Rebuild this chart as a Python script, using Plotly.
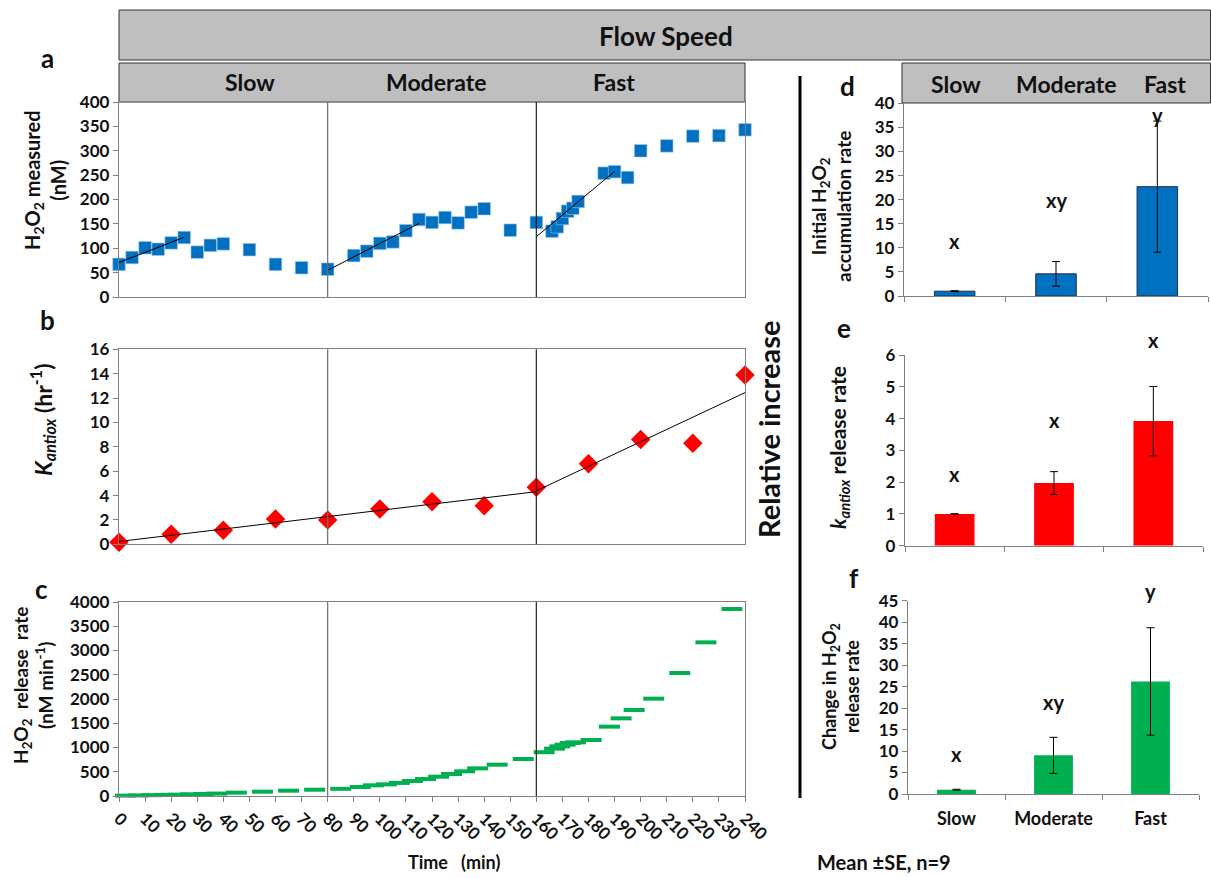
import numpy as np
import plotly.graph_objects as go

# ---------------- data ----------------
# panel a: H2O2 measured (nM)
t_a = [0, 5, 10, 15, 20, 25, 30, 35, 40, 50, 60, 70, 80, 90, 95, 100, 105, 110, 115, 120,
       125, 130, 135, 140, 150, 160, 166, 168, 170, 172, 174, 176, 186, 190, 195, 200,
       210, 220, 230, 240]
h2o2_a = [67, 81, 101, 98, 111, 122, 92, 106, 109, 97, 67, 60, 57, 85, 94, 110, 113, 136,
          159, 153, 163, 152, 174, 181, 137, 153, 135, 144, 161, 176, 182, 196, 254, 257,
          245, 300, 310, 330, 331, 343]
fit_windows_a = [(0, 25), (80, 115), (160, 190)]

# panel b: K_antiox (hr-1)
t_b = [0, 20, 40, 60, 80, 100, 120, 140, 160, 180, 200, 220, 240]
k_b = [0.16, 0.82, 1.15, 2.08, 2.0, 2.9, 3.5, 3.17, 4.68, 6.6, 8.6, 8.3, 13.9]
fit_windows_b = [(0, 160), (160, 240)]

# panel c: H2O2 release rate (nM min-1)
t_c = [2.5, 7.5, 12.5, 17.5, 22.5, 27.5, 32.5, 37.5, 45, 55, 65, 75, 85, 92.5, 97.5,
       102.5, 107.5, 112.5, 117.5, 122.5, 127.5, 132.5, 137.5, 145, 155, 163, 167, 169,
       171, 173, 175, 181, 188, 192.5, 197.5, 205, 215, 225, 235]
rate_c = [8, 12, 17, 22, 28, 35, 42, 50, 69, 89, 110, 130, 148, 186, 220, 240, 270, 309,
          350, 398, 454, 509, 570, 646, 763, 903, 976, 1024, 1058, 1093, 1107, 1155, 1430,
          1601, 1773, 2007, 2536, 3168, 3856]

phase_boundaries = [80, 160]
x_ticks_c = list(range(0, 241, 10))

# panels d-f: relative increase
speeds = ["Slow", "Moderate", "Fast"]
d_mean = [1.0, 4.6, 22.7]
d_se = [0.1, 2.55, 13.6]
d_letters = ["x", "xy", "y"]
d_letter_y = [11.5, 20.0, 37.6]
d_range = [0, 40]

e_mean = [1.0, 1.97, 3.92]
e_se = [0.0, 0.36, 1.09]
e_letters = ["x", "x", "x"]
e_letter_y = [2.25, 3.95, 6.47]
e_range = [0, 6]

f_mean = [1.0, 9.0, 26.2]
f_se = [0.1, 4.2, 12.5]
f_letters = ["x", "xy", "y"]
f_letter_y = [9.2, 21.5, 47.3]
f_range = [0, 45]

# ---------------- helpers ----------------
W, H = 1211, 878
FONT = "Lato"
TXT = "#111111"
AX = "#808080"


def X(px):
    return px / W


def Y(py):
    return 1 - py / H


fig = go.Figure()

# panel a
fig.add_trace(go.Scatter(x=t_a, y=h2o2_a, mode="markers", xaxis="x", yaxis="y",
                         marker=dict(symbol="square", size=12.5, color="#0070C0",
                                     line=dict(width=0.6, color="#9cc3e6")),
                         cliponaxis=False))
for lo, hi in fit_windows_a:
    tt = np.array([t for t in t_a if lo <= t <= hi], dtype=float)
    yy = np.array([v for t, v in zip(t_a, h2o2_a) if lo <= t <= hi], dtype=float)
    m, b = np.polyfit(tt, yy, 1)
    fig.add_trace(go.Scatter(x=[lo, hi], y=[m * lo + b, m * hi + b], mode="lines",
                             xaxis="x", yaxis="y", line=dict(color="black", width=1)))

# panel b
fig.add_trace(go.Scatter(x=t_b, y=k_b, mode="markers", xaxis="x2", yaxis="y2",
                         marker=dict(symbol="diamond", size=15, color="#FF0000"),
                         cliponaxis=False))
for lo, hi in fit_windows_b:
    tt = np.array([t for t in t_b if lo <= t <= hi], dtype=float)
    yy = np.array([v for t, v in zip(t_b, k_b) if lo <= t <= hi], dtype=float)
    m, b = np.polyfit(tt, yy, 1)
    fig.add_trace(go.Scatter(x=[lo, hi], y=[m * lo + b, m * hi + b], mode="lines",
                             xaxis="x2", yaxis="y2", line=dict(color="black", width=1)))

# panel c
fig.add_trace(go.Scatter(x=t_c, y=rate_c, mode="markers", xaxis="x3", yaxis="y3",
                         marker=dict(symbol="line-ew", size=15, color="#00B050",
                                     line=dict(width=4, color="#00B050")),
                         cliponaxis=False))

# bars d-f
err = dict(type="data", thickness=1, width=4, color="black")
fig.add_trace(go.Bar(x=speeds, y=d_mean, xaxis="x4", yaxis="y4", width=0.4,
                     marker=dict(color="#0070C0", line=dict(color="#1f2f4f", width=1)),
                     error_y=dict(array=d_se, **err)))
fig.add_trace(go.Bar(x=speeds, y=e_mean, xaxis="x5", yaxis="y5", width=0.4,
                     marker=dict(color="#FF0000", line=dict(width=0)),
                     error_y=dict(array=e_se, **err)))
fig.add_trace(go.Bar(x=speeds, y=f_mean, xaxis="x6", yaxis="y6", width=0.4,
                     marker=dict(color="#00B050", line=dict(width=0)),
                     error_y=dict(array=f_se, **err)))

ann = []
for ax, letters, ly, rng in [("4", d_letters, d_letter_y, d_range),
                             ("5", e_letters, e_letter_y, e_range),
                             ("6", f_letters, f_letter_y, f_range)]:
    for cat, s, yv in zip(speeds, letters, ly):
        ann.append(dict(x=cat, y=(yv - rng[0]) / (rng[1] - rng[0]), xref="x" + ax,
                        yref="y" + ax + " domain", text="<b>%s</b>" % s,
                        showarrow=False, xanchor="center", yanchor="middle",
                        font=dict(family=FONT, size=20, color=TXT)))

# ---------------- axes ----------------
tickfont = dict(family=FONT, size=17, color=TXT, weight="bold")
common_y = dict(showline=True, linecolor=AX, linewidth=1.3, ticks="outside", ticklen=5,
                tickcolor=AX, showgrid=False, zeroline=False, tickfont=tickfont,
                automargin=False)
common_xt = dict(showline=True, linecolor=AX, linewidth=1.3, mirror=True, showgrid=False,
                 zeroline=False, range=[0, 240], automargin=False)
cat_x = dict(type="category", tickson="boundaries", ticks="outside", ticklen=5,
             tickcolor=AX, showline=True, linecolor=AX, linewidth=1.3, showgrid=False,
             automargin=False)

lay = dict(
    xaxis=dict(domain=[X(119), X(745)], anchor="y", showticklabels=False, ticks="", **common_xt),
    yaxis=dict(domain=[Y(297), Y(102)], anchor="x", range=[0, 400], dtick=50, mirror=True, **common_y),
    xaxis2=dict(domain=[X(119), X(745)], anchor="y2", showticklabels=False, ticks="", **common_xt),
    yaxis2=dict(domain=[Y(544.3), Y(349.3)], anchor="x2", range=[0, 16], dtick=2, mirror=True, **common_y),
    xaxis3=dict(domain=[X(119), X(745)], anchor="y3", tickvals=x_ticks_c, ticks="outside",
                ticklen=5, tickcolor=AX, tickangle=45, tickfont=tickfont, **common_xt),
    yaxis3=dict(domain=[Y(796), Y(602)], anchor="x3", range=[0, 4000], dtick=500, mirror=True, **common_y),
    xaxis4=dict(domain=[X(904), X(1208)], anchor="y4", showticklabels=False, **cat_x),
    yaxis4=dict(domain=[Y(296), Y(103.3)], anchor="x4", range=d_range, dtick=5, **common_y),
    xaxis5=dict(domain=[X(905), X(1203)], anchor="y5", showticklabels=False, **cat_x),
    yaxis5=dict(domain=[Y(545.7), Y(355)], anchor="x5", range=e_range, dtick=1, **common_y),
    xaxis6=dict(domain=[X(908), X(1199)], anchor="y6", showticklabels=True, ticklabelstandoff=8,
                tickfont=dict(family=FONT, size=18, color=TXT, weight="bold"), **cat_x),
    yaxis6=dict(domain=[Y(794), Y(600.7)], anchor="x6", range=f_range, dtick=5, **common_y),
)

shapes = []
# phase boundary lines in a, b, c
for ya, xa in [("y", "x"), ("y2", "x2"), ("y3", "x3")]:
    for i, pb in enumerate(phase_boundaries):
        shapes.append(dict(type="line", xref=xa, yref=ya + " domain", x0=pb, x1=pb, y0=0, y1=1,
                           line=dict(color="#6f6f6f" if i == 0 else "#222222", width=1.2)))
# header boxes
hdr = dict(type="rect", xref="paper", yref="paper", fillcolor="#BFBFBF",
           line=dict(color="#333333", width=1), layer="below")
shapes.append(dict(x0=X(119), x1=X(1210.5), y0=Y(60), y1=Y(10), **hdr))
shapes.append(dict(x0=X(119), x1=X(745), y0=Y(102), y1=Y(63), **hdr))
shapes.append(dict(x0=X(902), x1=X(1210.5), y0=Y(103), y1=Y(63), **hdr))
# vertical divider
shapes.append(dict(type="line", xref="paper", yref="paper", x0=X(800), x1=X(800),
                   y0=Y(798), y1=Y(76), line=dict(color="black", width=3)))


def txt(px, py, s, size, angle=0, xanchor="center"):
    ann.append(dict(x=X(px), y=Y(py), xref="paper", yref="paper", text=s, showarrow=False,
                    textangle=angle, xanchor=xanchor, yanchor="middle",
                    font=dict(family=FONT, size=size, color=TXT)))


txt(666, 36, "<b>Flow Speed</b>", 26)
txt(250, 82, "<b>Slow</b>", 23)
txt(436, 82, "<b>Moderate</b>", 23)
txt(614, 82, "<b>Fast</b>", 23)
txt(956, 84, "<b>Slow</b>", 23)
txt(1066, 84, "<b>Moderate</b>", 23)
txt(1165, 84, "<b>Fast</b>", 23)

txt(47, 58, "<b>a</b>", 26)
txt(47, 320, "<b>b</b>", 26)
txt(41, 589, "<b>c</b>", 26)
txt(848, 86, "<b>d</b>", 26)
txt(844, 328, "<b>e</b>", 26)
txt(854, 578, "<b>f</b>", 26)

txt(45, 180, "<b>H<sub>2</sub>O<sub>2</sub> measured<br>(nM)</b>", 20, -90)
txt(43, 420, "<b><i>K</i><sub><i>antiox</i></sub> (hr<sup>-1</sup>)</b>", 23, -90)
txt(33, 686, "<b>H<sub>2</sub>O<sub>2</sub>  release  rate<br>(nM min<sup>-1</sup>)</b>", 19, -90)
txt(454, 862, "<b>Time   (min)</b>", 18)

txt(831, 207, "<b>Initial H<sub>2</sub>O<sub>2</sub><br>accumulation rate</b>", 19, -90)
txt(839, 448, "<b><i>k</i><sub><i>antiox</i></sub> release rate</b>", 21, -90)
txt(840, 687, "<b>Change in H<sub>2</sub>O<sub>2</sub><br>release rate</b>", 18, -90)
txt(768, 430, "<b>Relative increase</b>", 29, -90)
txt(815, 862, "<b>Mean ±SE, n=9</b>", 20, xanchor="left")

fig.update_layout(width=W, height=H, autosize=False, margin=dict(l=0, r=0, t=0, b=0, pad=0),
                  showlegend=False, paper_bgcolor="white", plot_bgcolor="white",
                  shapes=shapes, annotations=ann, font=dict(family=FONT, color=TXT), **lay)

fig.write_html("out.html", config={"displayModeBar": False},
               post_script="document.body.style.margin='0px';"
                           "document.body.style.overflow='hidden';")
